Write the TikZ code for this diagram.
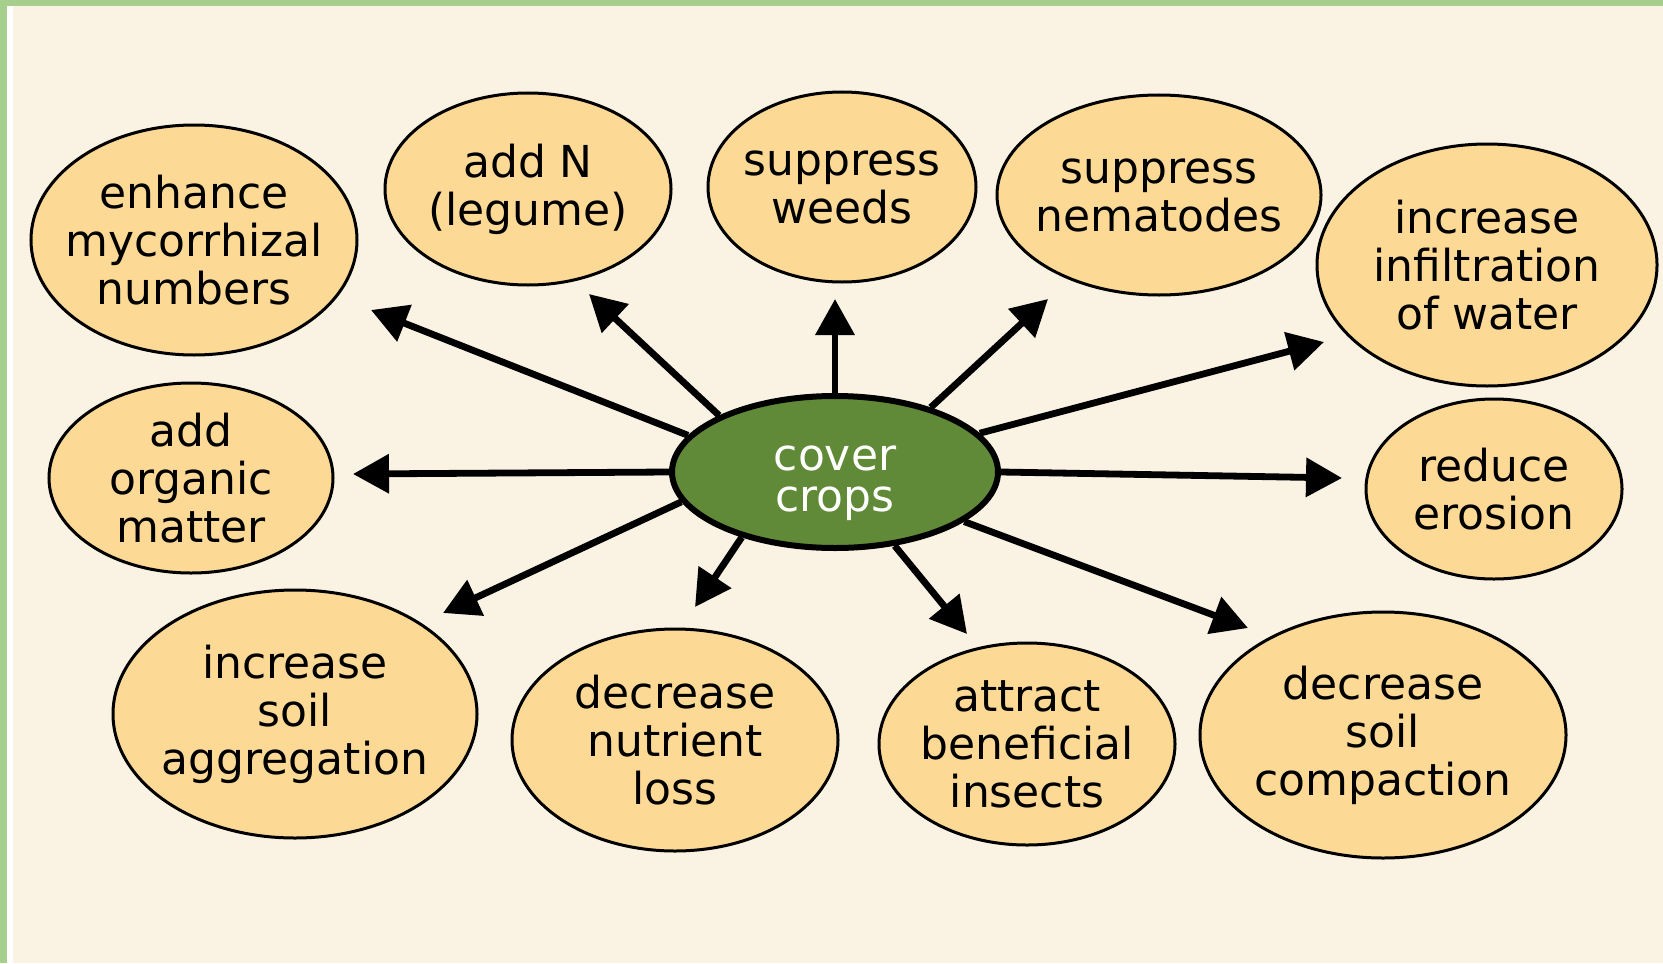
\documentclass[tikz,border=0pt]{standalone}
\usepackage{fontspec}
\setmainfont{DejaVu Sans}
\usepackage{xcolor}
\usepackage{tikz}
\usetikzlibrary{shapes.geometric}
\usetikzlibrary{arrows.meta}
\definecolor{bgcream}{RGB}{250,243,228}
\definecolor{framegreen}{RGB}{166,207,141}
\definecolor{bubblefill}{RGB}{252,218,150}
\definecolor{covergreen}{RGB}{96,137,56}
\tikzstyle{bubble}=[ellipse,fill=bubblefill,draw=black,line width=1.5pt,inner xsep=-14pt,inner ysep=0pt,align=center,font=\fontsize{22}{24}\selectfont]
\tikzstyle{hub}=[ellipse,fill=covergreen,draw=black,line width=3pt,inner sep=0pt,align=center,text=white,font=\fontsize{22}{20.5}\selectfont]
\tikzstyle{edge} = [draw,line width=3.4pt,-{Triangle[length=18pt,width=19pt]}]

\begin{document}
\begin{tikzpicture}[x=0.5pt,y=-0.5pt]

 %frame
 \fill[bgcream] (0,0) rectangle (1663,963);
 \fill[white] (7,6) rectangle (13,963);
 \fill[framegreen] (0,0) rectangle (1663,6);
 \fill[framegreen] (0,0) rectangle (7,963);
 \useasboundingbox (0,0) rectangle (1663,963);

 %hub
 \node[hub,minimum width=163pt,minimum height=76pt] (cc) at (835,472) {\rule{0pt}{24pt}cover\\crops};

 %top row
   \foreach \x/\y/\w/\h/\name/\label in {194/240/163/115/enh/{enhance\\mycorrhizal\\numbers},
          528/189/143/96/addn/{add N\\(legume)},
          842/187/134/95/weed/{suppress\\weeds},
          1159/195/162/100/nem/{suppress\\nematodes},
          1487/265/170/121/inf/{increase\\infiltration\\of water}}
          \node[bubble,minimum width=\w pt,minimum height=\h pt] (\name) at (\x,\y) {\label};

 %middle row
   \foreach \x/\y/\w/\h/\name/\label in {191/478/142/95/org/{add\\organic\\matter},
          1494/489/128/90/ero/{reduce\\erosion}}
          \node[bubble,minimum width=\w pt,minimum height=\h pt] (\name) at (\x,\y) {\label};

 %bottom row
   \foreach \x/\y/\w/\h/\name/\label in {295/714/182/124/agg/{increase\\soil\\aggregation},
          675/740/163/111/nut/{decrease\\nutrient\\loss},
          1027/744/148/101/ins/{attract\\beneficial\\insects},
          1383/735/183/123/comp/{decrease\\soil\\compaction}}
          \node[bubble,minimum width=\w pt,minimum height=\h pt] (\name) at (\x,\y) {\label};

 %arrow tips
   \foreach \x/\y/\name in {371/310/tenh, 589/294/taddn, 835/299/tweed, 1048/299/tnem,
          1324/342/tinf, 353/474/torg, 1342/478/tero, 443/613/tagg,
          695/607/tnut, 967/634/tins, 1248/628/tcomp}
          \coordinate (\name) at (\x,\y);

  \foreach \ang/\dest in {166/tenh, 154/taddn, 90/tweed, 34/tnem, 15/tinf, 180/torg,
          0/tero, 191/tagg, 215/tnut, 309/tins, 339/tcomp}
         \path[edge] (cc.\ang) -- (\dest);

\end{tikzpicture}
\end{document}
